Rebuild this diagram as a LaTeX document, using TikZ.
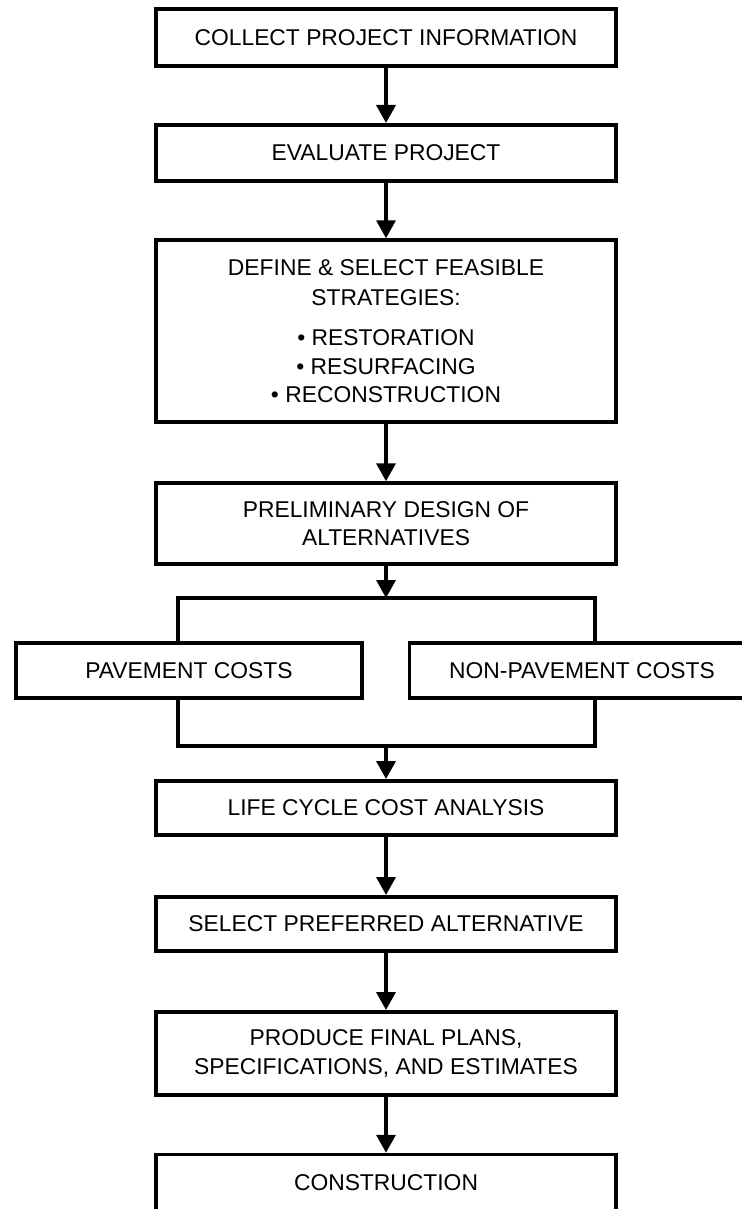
\documentclass[tikz,border=0pt]{standalone}
\usepackage{fontspec}
\setmainfont{Liberation Sans}
\usetikzlibrary{arrows.meta}

\begin{document}
\begin{tikzpicture}[x=0.02cm,y=-0.02cm,line width=2pt]

        \useasboundingbox (0,0) rectangle (742,1209);

        \begin{scope}[every node/.style={rectangle,draw,align=center,inner sep=0pt,
            minimum width=9.2cm,font=\fontsize{13}{16}\selectfont}]
          \node (1)  at (386,37.5)  [minimum height=1.14cm] {COLLECT PROJECT INFORMATION};
          \node (2)  at (386,153)   [minimum height=1.13cm] {EVALUATE PROJECT};
          \node (3)  at (386,331)   [minimum height=3.64cm] {DEFINE \& SELECT FEASIBLE\\[1pt]
            STRATEGIES:\\[7pt] • RESTORATION\\ • RESURFACING\\ • RECONSTRUCTION};
          \node (4)  at (386,523.5) [minimum height=1.62cm] {PRELIMINARY DESIGN OF\\ ALTERNATIVES};
          \node (5)  at (189,670.5) [minimum height=1.11cm, minimum width=6.93cm] {PAVEMENT COSTS};
          \node (6)  at (582,670.5) [minimum height=1.11cm, minimum width=6.9cm] {NON-PAVEMENT COSTS};
          \node (7)  at (386,808)   [minimum height=1.09cm] {LIFE CYCLE COST ANALYSIS};
          \node (8)  at (386,924)   [minimum height=1.09cm] {SELECT PREFERRED ALTERNATIVE};
          \node (9)  at (386,1053.5)[minimum height=1.67cm] {PRODUCE FINAL PLANS,\\ SPECIFICATIONS, AND ESTIMATES};
          \node (10) at (386,1183)  [minimum height=1.14cm] {CONSTRUCTION};
        \end{scope}

        \coordinate (t)  at (386,598);
        \coordinate (tl) at (178,598);
        \coordinate (tr) at (595,598);
        \coordinate (b)  at (386,746);
        \coordinate (bl) at (178,746);
        \coordinate (br) at (595,746);

        \draw (tl |- 5.north) -- (tl) -- (tr) -- (tr |- 6.north);
        \draw (bl |- 5.south) -- (bl) -- (br) -- (br |- 6.south);

        \begin{scope}[every edge/.style={draw,-{Triangle[length=0.36cm,width=0.38cm]}}]
          \path (1) edge (2);
          \path (2) edge (3);
          \path (3) edge (4);
          \path (4) edge (t);
          \path (b) edge (7);
          \path (7) edge (8);
          \path (8) edge (9);
          \path (9) edge (10);
        \end{scope}

      \end{tikzpicture}
\end{document}
